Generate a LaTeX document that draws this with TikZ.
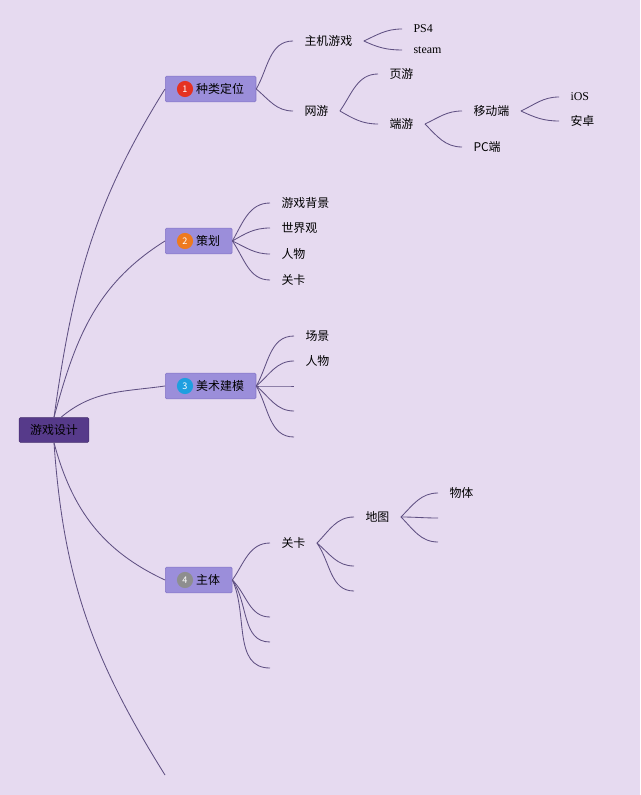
\documentclass[tikz,border=0pt]{standalone}
\usepackage{fontspec}
\setmainfont{Noto Sans CJK SC}
\newfontfamily\latin{Liberation Serif}
\definecolor{bgpurple}{HTML}{E6DAF0}
\definecolor{rootfill}{HTML}{563A8A}
\definecolor{catfill}{HTML}{9B8EDA}
\definecolor{catline}{HTML}{8474C6}
\definecolor{linkcol}{HTML}{5F5082}
\definecolor{dotred}{HTML}{E53222}
\definecolor{dotorange}{HTML}{EE7A1E}
\definecolor{dotblue}{HTML}{1E9FE0}
\definecolor{dotgray}{HTML}{8E8E8E}
\tikzset{
  root/.style={draw=rootfill!80!black,fill=rootfill,rounded corners=1pt,minimum height=17.7pt,inner xsep=7.8pt,text=black},
  catbox/.style={draw=catline,fill=catfill,rounded corners=1pt,minimum height=18.4pt,inner xsep=8.5pt,anchor=west},
  numdot/.style={circle,inner sep=0pt,minimum size=11.5pt,text=white,font=\fontsize{6.5}{7}\selectfont},
  leaf/.style={anchor=west,inner xsep=8pt,inner ysep=2pt},
  link/.style={draw=linkcol,line width=0.6pt}
}
\begin{document}
\begin{tikzpicture}[x=0.025cm,y=-0.025cm,every node/.style={font=\fontsize{8.5}{10}\selectfont}]
\fill[bgpurple] (0,0) rectangle (640,795);
\useasboundingbox (0,0) rectangle (640,795);

\node (root) [root] at (54,430) {游戏设计};

\node (zhonglei) [catbox] at (165,89) {\hspace{13.5pt}种类定位};
\node (cehua) [catbox] at (165,241) {\hspace{13.5pt}策划};
\node (meishu) [catbox] at (165,386) {\hspace{13.5pt}美术建模};
\node (zhuti) [catbox] at (165,580) {\hspace{13.5pt}主体};
\coordinate (kong) at (165,775);

\node [numdot,fill=dotred] at (185,89) {1};
\node [numdot,fill=dotorange] at (185,241) {2};
\node [numdot,fill=dotblue] at (185,386) {3};
\node [numdot,fill=dotgray] at (185,580) {4};

\draw[link] (root.north) to[out=82,in=238] (zhonglei.west);
\draw[link] (root.north) to[out=75,in=212] (cehua.west);
\draw[link] ([xshift=5pt]root.north) to[out=40,in=188] (meishu.west);
\draw[link] (root.south) to[out=-75,in=155] (zhuti.west);
\draw[link] (root.south) to[out=-86,in=122] (kong);

% zhonglei dingwei
\node (zhuji) [leaf] at (293,41) {主机游戏};
\node (wangyou) [leaf] at (293,111) {网游};
\node (ps) [leaf] at (402,29) {\latin PS4};
\node (steam) [leaf] at (402,50) {\latin steam};
\node (yeyou) [leaf] at (378,74) {页游};
\node (duanyou) [leaf] at (378,124) {端游};
\node (yidong) [leaf] at (462,111) {移动端};
\node (pc) [leaf] at (462,147) {PC端};
\node (ios) [leaf] at (559,97) {\latin iOS};
\node (anzhuo) [leaf] at (559,121) {安卓};
\draw[link] (zhonglei.east) to[out=60,in=180] (zhuji.west);
\draw[link] (zhonglei.east) to[out=-40,in=180] (wangyou.west);
\draw[link] (zhuji.east) to[out=25,in=180] (ps.west);
\draw[link] (zhuji.east) to[out=-25,in=180] (steam.west);
\draw[link] (wangyou.east) to[out=55,in=180] (yeyou.west);
\draw[link] (wangyou.east) to[out=-30,in=180] (duanyou.west);
\draw[link] (duanyou.east) to[out=25,in=180] (yidong.west);
\draw[link] (duanyou.east) to[out=-45,in=180] (pc.west);
\draw[link] (yidong.east) to[out=25,in=180] (ios.west);
\draw[link] (yidong.east) to[out=-25,in=180] (anzhuo.west);

% cehua
\node (beijing) [leaf] at (270,203) {游戏背景};
\node (shijie) [leaf] at (270,228) {世界观};
\node (renwu) [leaf] at (270,254) {人物};
\node (guanka) [leaf] at (270,280) {关卡};
\draw[link] (cehua.east) to[out=60,in=180] (beijing.west);
\draw[link] (cehua.east) to[out=30,in=180] (shijie.west);
\draw[link] (cehua.east) to[out=-25,in=180] (renwu.west);
\draw[link] (cehua.east) to[out=-55,in=180] (guanka.west);

% meishu jianmo
\node (changjing) [leaf] at (294,336) {场景};
\node (renwu2) [leaf] at (294,361) {人物};
\coordinate (m3) at (294,386);
\coordinate (m4) at (294,411);
\coordinate (m5) at (294,437);
\draw[link] (meishu.east) to[out=60,in=180] (changjing.west);
\draw[link] (meishu.east) to[out=40,in=180] (renwu2.west);
\draw[link] (meishu.east) to[out=0,in=180] (m3);
\draw[link] (meishu.east) to[out=-40,in=180] (m4);
\draw[link] (meishu.east) to[out=-60,in=180] (m5);

% zhuti
\node (guanka2) [leaf] at (270,543) {关卡};
\coordinate (z2) at (270,617);
\coordinate (z3) at (270,642);
\coordinate (z4) at (270,668);
\draw[link] (zhuti.east) to[out=55,in=180] (guanka2.west);
\draw[link] (zhuti.east) to[out=-45,in=180] (z2);
\draw[link] (zhuti.east) to[out=-55,in=180] (z3);
\draw[link] (zhuti.east) to[out=-65,in=180] (z4);
\node (ditu) [leaf] at (354,517) {地图};
\coordinate (g2) at (354,566);
\coordinate (g3) at (354,591);
\draw[link] (guanka2.east) to[out=45,in=180] (ditu.west);
\draw[link] (guanka2.east) to[out=-40,in=180] (g2);
\draw[link] (guanka2.east) to[out=-55,in=180] (g3);
\node (wuti) [leaf] at (438,493) {物体};
\coordinate (d2) at (438,518);
\coordinate (d3) at (438,542);
\draw[link] (ditu.east) to[out=45,in=180] (wuti.west);
\draw[link] (ditu.east) to[out=0,in=180] (d2);
\draw[link] (ditu.east) to[out=-45,in=180] (d3);
\end{tikzpicture}
\end{document}
